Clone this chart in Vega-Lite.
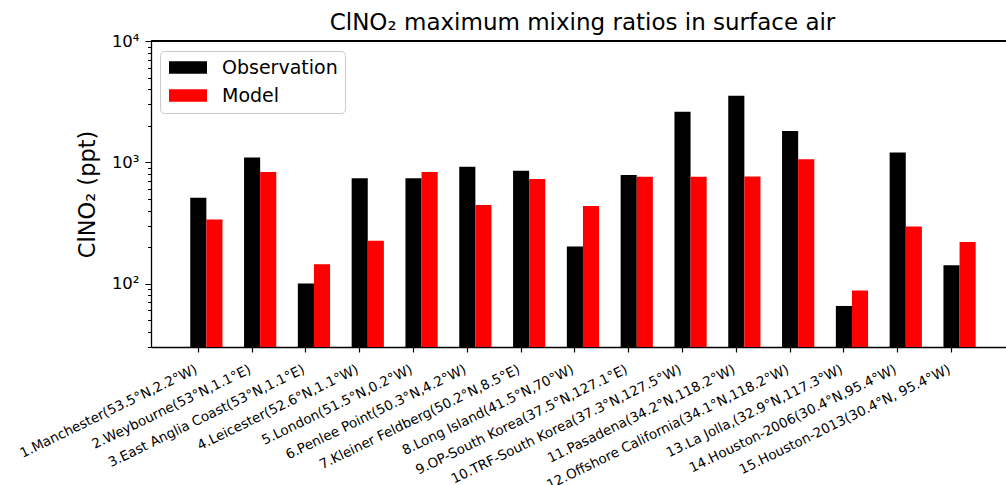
{
  "$schema": "https://vega.github.io/schema/vega-lite/v6.json",
  "width": 855,
  "height": 306,
  "autosize": {"type": "none"},
  "padding": {"left": 151, "top": 41, "right": 0, "bottom": 138},
  "background": "white",
  "config": {"view": {"stroke": null}, "font": "DejaVu Sans"},
  "title": {
    "text": "ClNO₂ maximum mixing ratios in surface air",
    "fontSize": 23,
    "fontWeight": "normal",
    "font": "DejaVu Sans",
    "color": "black",
    "anchor": "middle",
    "frame": "group",
    "baseline": "alphabetic",
    "offset": 10,
    "dy": 30,
    "dx": 4
  },
  "data": {
    "values": [
      {"site": "1.Manchester(53.5°N,2.2°W)", "series": "Observation", "value": 511},
      {"site": "1.Manchester(53.5°N,2.2°W)", "series": "Model", "value": 337},
      {"site": "2.Weybourne(53°N,1.1°E)", "series": "Observation", "value": 1097},
      {"site": "2.Weybourne(53°N,1.1°E)", "series": "Model", "value": 830},
      {"site": "3.East Anglia Coast(53°N,1.1°E)", "series": "Observation", "value": 100},
      {"site": "3.East Anglia Coast(53°N,1.1°E)", "series": "Model", "value": 144},
      {"site": "4.Leicester(52.6°N,1.1°W)", "series": "Observation", "value": 737},
      {"site": "4.Leicester(52.6°N,1.1°W)", "series": "Model", "value": 226},
      {"site": "5.London(51.5°N,0.2°W)", "series": "Observation", "value": 737},
      {"site": "5.London(51.5°N,0.2°W)", "series": "Model", "value": 830},
      {"site": "6.Penlee Point(50.3°N,4.2°W)", "series": "Observation", "value": 919},
      {"site": "6.Penlee Point(50.3°N,4.2°W)", "series": "Model", "value": 444},
      {"site": "7.Kleiner Feldberg(50.2°N,8.5°E)", "series": "Observation", "value": 852},
      {"site": "7.Kleiner Feldberg(50.2°N,8.5°E)", "series": "Model", "value": 727},
      {"site": "8.Long Island(41.5°N,70°W)", "series": "Observation", "value": 202},
      {"site": "8.Long Island(41.5°N,70°W)", "series": "Model", "value": 436},
      {"site": "9.OP-South Korea(37.5°N,127.1°E)", "series": "Observation", "value": 785},
      {"site": "9.OP-South Korea(37.5°N,127.1°E)", "series": "Model", "value": 761},
      {"site": "10.TRF-South Korea(37.3°N,127.5°W)", "series": "Observation", "value": 2612},
      {"site": "10.TRF-South Korea(37.3°N,127.5°W)", "series": "Model", "value": 761},
      {"site": "11.Pasadena(34.2°N,118.2°W)", "series": "Observation", "value": 3535},
      {"site": "11.Pasadena(34.2°N,118.2°W)", "series": "Model", "value": 765},
      {"site": "12.Offshore California(34.1°N,118.2°W)", "series": "Observation", "value": 1807},
      {"site": "12.Offshore California(34.1°N,118.2°W)", "series": "Model", "value": 1057},
      {"site": "13.La Jolla,(32.9°N,117.3°W)", "series": "Observation", "value": 65.4},
      {"site": "13.La Jolla,(32.9°N,117.3°W)", "series": "Model", "value": 87.6},
      {"site": "14.Houston-2006(30.4°N,95.4°W)", "series": "Observation", "value": 1207},
      {"site": "14.Houston-2006(30.4°N,95.4°W)", "series": "Model", "value": 296},
      {"site": "15.Houston-2013(30.4°N, 95.4°W)", "series": "Observation", "value": 141.6},
      {"site": "15.Houston-2013(30.4°N, 95.4°W)", "series": "Model", "value": 220}
    ]
  },
  "layer": [
    {
      "mark": {"type": "bar"},
      "encoding": {
        "x": {
          "field": "site",
          "type": "nominal",
          "sort": null,
          "scale": {"paddingInner": 0, "paddingOuter": 0.446, "align": 0.593},
          "axis": {
            "title": null,
            "labelAngle": -26,
            "labelAlign": "right",
            "labelBaseline": "top",
            "labelFontSize": 13.5,
            "labelFont": "DejaVu Sans",
            "labelColor": "black",
            "labelPadding": 10,
            "labelOffset": -13,
            "labelLimit": 0,
            "labelOverlap": false,
            "labelBound": false,
            "tickColor": "black",
            "tickSize": 5,
            "tickWidth": 1.2,
            "domainColor": "black",
            "domainWidth": 1.3,
            "bandPosition": 0.35
          }
        },
        "xOffset": {
          "field": "series",
          "type": "nominal",
          "sort": ["Observation", "Model"],
          "scale": {"paddingInner": 0, "paddingOuter": 0.67}
        },
        "y": {
          "field": "value",
          "type": "quantitative",
          "stack": null,
          "scale": {"type": "log", "domain": [30, 10000], "nice": false},
          "axis": {
            "title": "ClNO₂ (ppt)",
            "titleFontSize": 22.5,
            "titleFont": "DejaVu Sans",
            "titleFontWeight": "normal",
            "titleColor": "black",
            "titlePadding": 12,
            "grid": false,
            "values": [30, 40, 50, 60, 70, 80, 90, 100, 200, 300, 400, 500, 600, 700, 800, 900, 1000, 2000, 3000, 4000, 5000, 6000, 7000, 8000, 9000, 10000],
            "labelExpr": "datum.value == 100 ? '10²' : datum.value == 1000 ? '10³' : datum.value == 10000 ? '10⁴' : ''",
            "labelFontSize": 16.5,
            "labelFont": "DejaVu Sans",
            "labelColor": "black",
            "labelPadding": 6,
            "tickColor": "black",
            "tickWidth": 1,
            "tickSize": {"condition": {"test": "indexof([100, 1000, 10000], datum.value) >= 0", "value": 6}, "value": 3.5},
            "domainColor": "black",
            "domainWidth": 1.3
          }
        },
        "color": {
          "field": "series",
          "type": "nominal",
          "sort": ["Observation", "Model"],
          "scale": {"domain": ["Observation", "Model"], "range": ["#000000", "#ff0000"]},
          "legend": {
            "orient": "none",
            "legendX": 9,
            "legendY": 10,
            "title": null,
            "symbolType": "M-3.167,-1.05H3.167V1.05H-3.167Z",
            "symbolSize": 144,
            "symbolOffset": 11.5,
            "symbolStrokeWidth": 0,
            "symbolOpacity": 1,
            "labelFontSize": 19,
            "labelFont": "DejaVu Sans",
            "labelColor": "black",
            "labelOffset": 24.5,
            "fillColor": "white",
            "strokeColor": "#cccccc",
            "cornerRadius": 4,
            "padding": 7,
            "rowPadding": 8
          }
        }
      }
    },
    {
      "mark": {"type": "rule", "color": "black", "strokeWidth": 1.3},
      "encoding": {
        "y": {"datum": 10000, "type": "quantitative", "scale": {"type": "log", "domain": [30, 10000], "nice": false}}
      }
    }
  ]
}
